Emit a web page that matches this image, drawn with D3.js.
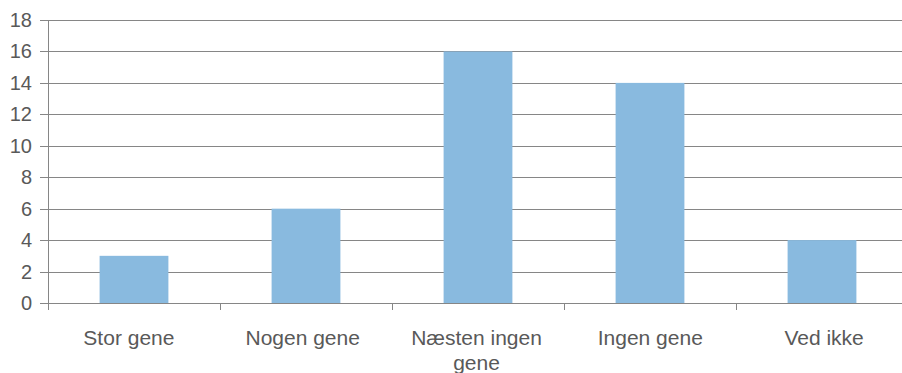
<!DOCTYPE html>
<html>
<head>
<meta charset="utf-8">
<script src="https://cdn.jsdelivr.net/npm/d3@7"></script>
<style>
  html, body { margin: 0; padding: 0; background: #fff; }
  svg { display: block; }
  text { font-family: "Liberation Sans", Arial, sans-serif; fill: #595959; }
</style>
</head>
<body>
<svg id="chart" width="902" height="373"></svg>
<script>
const categories = ["Stor gene", "Nogen gene", "Næsten ingen gene", "Ingen gene", "Ved ikke"];
const values = [3, 6, 16, 14, 4];
const yTicks = [0, 2, 4, 6, 8, 10, 12, 14, 16, 18];

const svg = d3.select("#chart");
const plotLeft = 48, plotRight = 908, plotTop = 20, plotBottom = 303;

const x = d3.scaleBand().domain(categories).range([plotLeft, plotRight]).paddingInner(0).paddingOuter(0);
// label slots run on a slightly wider band than the bars
const xLabel = d3.scaleBand().domain(categories).range([42, 911]);
const y = d3.scaleLinear().domain([0, 18]).range([plotBottom, plotTop]);
const barW = x.bandwidth() * 0.4;

// horizontal gridlines with ticks extending left of the axis
const grid = svg.append("g");
grid.selectAll("line").data(yTicks).join("line")
  .attr("x1", plotLeft - 8).attr("x2", 902)
  .attr("y1", d => Math.round(y(d)) + 0.5).attr("y2", d => Math.round(y(d)) + 0.5)
  .attr("stroke", "#868686").attr("stroke-width", 1);

// y tick labels
svg.append("g").selectAll("text").data(yTicks).join("text")
  .attr("x", 32).attr("y", d => y(d))
  .attr("dy", "0.35em")
  .attr("text-anchor", "end")
  .style("font-size", "20px")
  .text(d => d);

// bars
svg.append("g").selectAll("rect").data(categories).join("rect")
  .attr("x", d => x(d) + (x.bandwidth() - barW) / 2)
  .attr("width", barW)
  .attr("y", (d, i) => y(values[i]))
  .attr("height", (d, i) => plotBottom - y(values[i]))
  .attr("fill", "#89BADF");

// baseline and y-axis
svg.append("line")
  .attr("x1", plotLeft - 8).attr("x2", 902)
  .attr("y1", plotBottom + 0.5).attr("y2", plotBottom + 0.5)
  .attr("stroke", "#868686");
svg.append("line")
  .attr("x1", plotLeft + 0.5).attr("x2", plotLeft + 0.5)
  .attr("y1", plotTop).attr("y2", plotBottom + 7)
  .attr("stroke", "#868686");

// category boundary ticks
svg.append("g").selectAll("line").data(categories.slice(1)).join("line")
  .attr("x1", d => Math.round(x(d)) + 0.5).attr("x2", d => Math.round(x(d)) + 0.5)
  .attr("y1", plotBottom).attr("y2", plotBottom + 7)
  .attr("stroke", "#868686");

// category labels, wrapped to the band width
const labels = svg.append("g").selectAll("text").data(categories).join("text")
  .attr("x", d => xLabel(d) + xLabel.bandwidth() / 2)
  .attr("y", 345)
  .attr("text-anchor", "middle")
  .style("font-size", "21px");

labels.each(function(d) {
  const t = d3.select(this);
  const cx = xLabel(d) + xLabel.bandwidth() / 2;
  const words = d.split(" ");
  let line = [];
  let tspan = t.append("tspan").attr("x", cx).attr("dy", 0);
  for (const w of words) {
    line.push(w);
    tspan.text(line.join(" "));
    if (tspan.node().getComputedTextLength() > x.bandwidth() - 8 && line.length > 1) {
      line.pop();
      tspan.text(line.join(" "));
      line = [w];
      tspan = t.append("tspan").attr("x", cx).attr("dy", 25).text(w);
    }
  }
});
</script>
</body>
</html>
